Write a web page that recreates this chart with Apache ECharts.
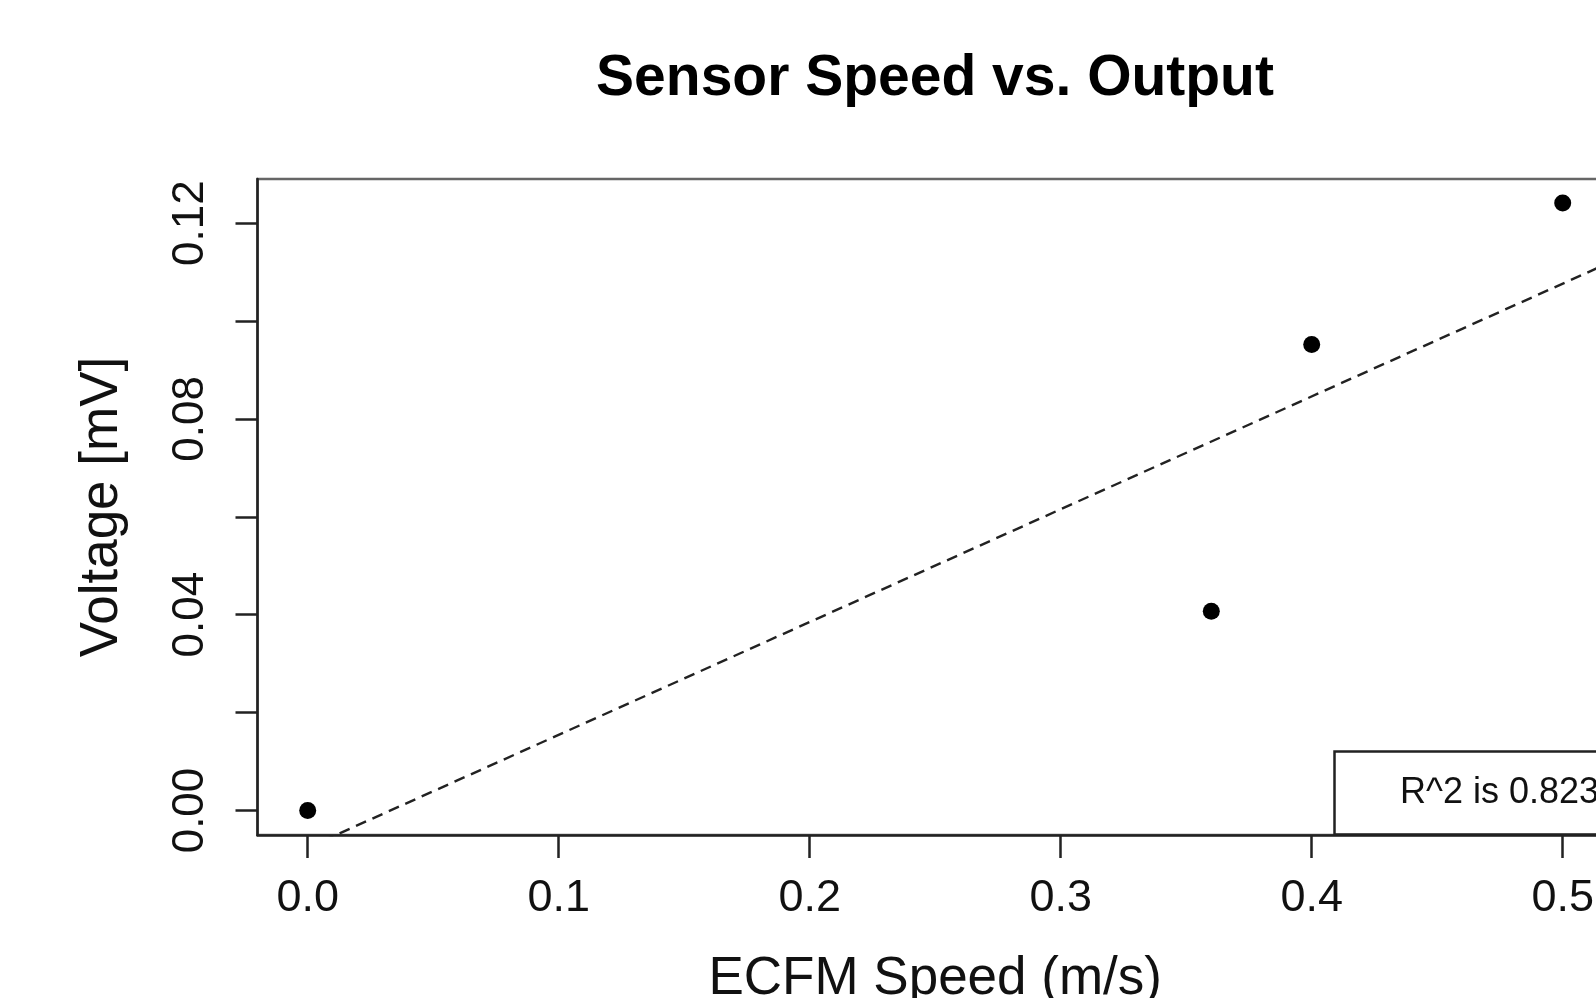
<!DOCTYPE html>
<html>
<head>
<meta charset="utf-8">
<title>Sensor Speed vs. Output</title>
<script src="https://cdn.jsdelivr.net/npm/echarts@6/dist/echarts.min.js"></script>
<style>
  html, body { margin: 0; padding: 0; background: #fff; }
  #chart { width: 1596px; height: 998px; }
</style>
</head>
<body>
<div id="chart"></div>
<script>
// measured data points
const speed = [0, 0.36, 0.40, 0.50]
const voltage = [0, 0.0407, 0.0952, 0.1241]

// axis ticks / labels
const xTicks = [0, 0.1, 0.2, 0.3, 0.4, 0.5]
const yTicks = [0, 0.02, 0.04, 0.06, 0.08, 0.10, 0.12]
const yLabels = [0, 0.04, 0.08, 0.12]
const xRange = [-0.02, 0.52]
const yRange = [-0.005, 0.129]
const fitLabel = 'R^2 is 0.823'

// least squares fit (abline(lm(...)))
const n = speed.length
const mx = speed.reduce((a, b) => a + b, 0) / n
const my = voltage.reduce((a, b) => a + b, 0) / n
let sxy = 0, sxx = 0
speed.forEach((x, i) => { sxy += (x - mx) * (voltage[i] - my); sxx += (x - mx) * (x - mx) })
const slope = sxy / sxx
const intercept = my - slope * mx
const fitLine = xRange.map(x => [x, intercept + slope * x])

const font = '"Liberation Sans", Arial, Helvetica, sans-serif'
const ink = '#222'

const chart = echarts.init(document.getElementById('chart'), null, { renderer: 'canvas' })

const option = {
  animation: false,
  backgroundColor: '#fff',
  textStyle: { fontFamily: font },
  title: [
    {
      text: 'Sensor Speed vs. Output',
      left: 935, top: 51, padding: 0,
      textAlign: 'center',
      textStyle: { fontSize: 57, lineHeight: 57, fontWeight: 'bold', color: '#000', fontFamily: font }
    },
    {
      text: fitLabel,
      left: 1334, top: 751,
      padding: [24, 14, 24, 66],
      borderColor: ink, borderWidth: 2.5,
      textStyle: { fontSize: 36, lineHeight: 36, fontWeight: 'normal', color: '#111', fontFamily: font }
    }
  ],
  grid: {
    left: 257.5, top: 179, width: 1355.4, height: 656,
    show: true, borderColor: '#666', borderWidth: 2.5,
    containLabel: false,
    outerBoundsMode: 'none'
  },
  xAxis: {
    type: 'value',
    min: xRange[0], max: xRange[1],
    name: 'ECFM Speed (m/s)',
    nameLocation: 'middle', nameGap: 118,
    nameTextStyle: { fontSize: 53, lineHeight: 53, color: '#111', fontFamily: font },
    splitLine: { show: false },
    axisLine: { show: true, onZero: false, lineStyle: { color: ink, width: 2.5 } },
    axisTick: { show: true, inside: false, length: 23, customValues: xTicks, lineStyle: { color: ink, width: 2.5 } },
    axisLabel: {
      customValues: xTicks, margin: 41,
      fontSize: 45, lineHeight: 45, color: '#111', fontFamily: font,
      formatter: v => v.toFixed(1)
    }
  },
  yAxis: {
    type: 'value',
    min: yRange[0], max: yRange[1],
    name: 'Voltage [mV]',
    nameLocation: 'middle', nameGap: 129,
    nameTextStyle: { fontSize: 53, lineHeight: 53, color: '#111', fontFamily: font },
    splitLine: { show: false },
    axisLine: { show: true, onZero: false, lineStyle: { color: ink, width: 2.5 } },
    axisTick: { show: true, inside: false, length: 22, customValues: yTicks, lineStyle: { color: ink, width: 2.5 } },
    axisLabel: {
      customValues: yLabels, margin: 45, rotate: 90,
      fontSize: 44, lineHeight: 44, color: '#111', fontFamily: font,
      formatter: v => v.toFixed(2)
    }
  },
  series: [
    {
      name: 'fit',
      type: 'line',
      data: fitLine,
      clip: true,
      symbol: 'none',
      lineStyle: { color: '#222', width: 2.4, type: [11, 7] },
      z: 2
    },
    {
      name: 'data',
      type: 'scatter',
      data: speed.map((x, i) => [x, voltage[i]]),
      symbol: 'circle',
      symbolSize: 17,
      itemStyle: { color: '#000', opacity: 1 },
      z: 3
    }
  ]
}

chart.setOption(option)
</script>
</body>
</html>
